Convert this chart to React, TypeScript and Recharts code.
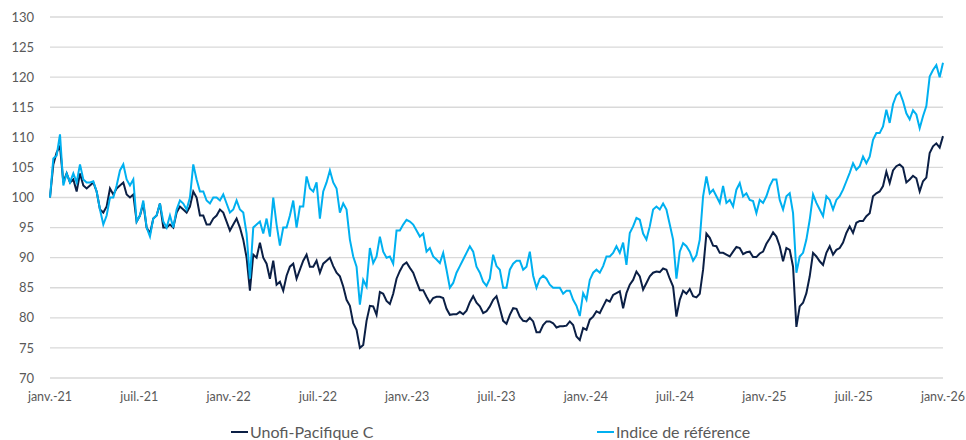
import React from 'react';
import { LineChart, Line, XAxis, YAxis, CartesianGrid, Legend } from 'recharts';

const FONT = 'Lato, "Open Sans", sans-serif';
const FUND_COLOR = '#0b1f45';
const BENCH_COLOR = '#00b0f0';

const tickLabels = [
  'janv.-21', 'juil.-21', 'janv.-22', 'juil.-22', 'janv.-23', 'juil.-23',
  'janv.-24', 'juil.-24', 'janv.-25', 'juil.-25', 'janv.-26',
];

const yTicks = [70, 75, 80, 85, 90, 95, 100, 105, 110, 115, 120, 125, 130];

// weekly values, Unofi-Pacifique C
const fund = [
  // 2021 - mid 2022
  100, 105.5, 107.5, 108.5, 102.5, 104, 102.5, 103, 101, 104, 102, 101.5, 102, 102.5, 101, 98, 97.5,
  98.5, 101.5, 100.5, 101.5, 102, 102.5, 100.5, 100, 100.5, 96, 97, 99, 95, 94, 96.5, 97, 99, 95, 95,
  95.5, 95, 97.5, 98.5, 98, 97.5, 98.5, 101, 100, 97, 97, 95.5, 95.5, 96.5, 97, 98, 97.5, 96, 94.5,
  95.5, 96.5, 95, 93, 90, 84.5, 90.5, 90, 92.5, 90, 89, 86.5, 89.5, 85.5, 86, 84.5, 87, 88.5, 89, 86.5,
  88, 89.5, 90.5, 88.5, 88.5, 89.5, 87.5, 89, 89.5, 90,
  // mid 2022 - mid 2024
  88.6, 87.5, 86.9, 85.2, 83, 82, 79.1, 78, 75, 75.5, 79.5, 82, 81.9, 80.5, 84.3, 84, 82.8, 82.3, 84,
  86.5, 87.8, 88.8, 89.2, 88.3, 87.5, 86, 84.6, 84.6, 83.5, 82.5, 83.3, 83.5, 83.5, 83.3, 81.5, 80.5,
  80.6, 80.6, 81, 80.6, 81.2, 82.6, 83.6, 82.5, 81.9, 80.8, 81.1, 81.9, 83, 83.6, 81.6, 79.5, 79, 80.5,
  81.6, 81.5, 80.2, 79.5, 79.4, 80, 79.4, 77.6, 77.6, 78.8, 79.4, 79.4, 79.1, 78.4, 78.6, 78.6, 78.7,
  79.4, 78.8, 76.9, 76.3, 78.3, 78, 79.7, 80.2, 81.1, 80.8, 81.9, 83, 82.7, 83.8, 84.1, 84.4, 81.6,
  84.1, 85.5, 86.3, 87.7, 86.9, 84.7, 85.8, 86.9,
  // mid 2024 - 2026
  87.5, 87.7, 87.6, 88.2, 88, 86.5, 85.2, 80.2, 83, 84.5, 84, 84.8, 83.6, 83.4, 84, 88, 94, 93.3, 92,
  91.9, 90.8, 90.8, 90.5, 90.2, 91, 91.8, 91.6, 90.6, 90.9, 91, 90.1, 90.1, 90.7, 91, 92.3, 93.2, 94.2,
  93.5, 91.9, 89.4, 91.6, 91.3, 88.5, 78.5, 81.9, 82.5, 84.1, 86.9, 90.8, 90.2, 89.4, 88.8, 90.8, 91.9,
  90.5, 91.3, 91.6, 92.5, 94.1, 95.2, 94.1, 95.8, 96.1, 96.1, 96.9, 97.4, 100.2, 100.7, 101, 101.9,
  104.3, 102.4, 104.5, 105.2, 105.5, 105, 102.5, 103, 103.6, 103.2, 101, 102.7, 103.3, 107.4, 108.5,
  109, 108.3, 110.2,
];

// weekly values, Indice de référence
const bench = [
  // 2021 - mid 2022
  100, 106.5, 107, 110.5, 102, 104, 102.5, 104, 102.5, 105.5, 103, 102.5, 102.5, 102.7, 101, 98, 95.5,
  97, 100, 100, 102, 104.5, 105.5, 103, 102, 103, 96, 97, 99.5, 95, 93.5, 96.5, 97, 99, 96, 95, 97, 95,
  98, 99.5, 99, 98, 100, 105.5, 103, 101, 101, 99.5, 99, 100, 100, 99.5, 100.5, 99, 97.5, 98, 99.5, 98,
  97.5, 94, 86.5, 95, 95.5, 96, 94, 96.5, 93.5, 100, 95.5, 92, 95, 95, 97, 99.5, 95, 98.5, 98.5, 103.5,
  101.5, 101, 102.5, 96.5, 101, 102.5, 104.5,
  // mid 2022 - mid 2024
  102.5, 101.5, 97.5, 99, 98, 93, 90.2, 88.5, 82.2, 86.3, 85.2, 91.6, 89.1, 90.2, 93.5, 91, 90, 90.2,
  89, 94.5, 94.5, 95.5, 96.3, 96, 95.5, 94.5, 93.5, 94, 91, 91.6, 90.2, 89.7, 89.1, 90.8, 88, 85, 85.8,
  87.5, 88.6, 89.7, 90.8, 91.9, 91, 88.5, 87.5, 86, 85.3, 86.5, 90.5, 88.6, 88, 85, 85, 88, 89, 89.5,
  89.5, 88, 88.5, 91, 87, 85, 86.5, 87, 86.5, 85.5, 85, 85, 85, 84, 84.5, 84.5, 83, 82, 80.3, 84.1, 83,
  86.3, 87.5, 88, 87.5, 88.6, 90.2, 90.2, 90.8, 91.9, 90.8, 92.5, 88.8, 94.1, 95.2, 96.6, 96.3, 94, 93,
  95.2,
  // mid 2024 - 2026
  98, 98.5, 98, 99, 98, 95.5, 93, 86.5, 91, 92.4, 91.9, 91, 89.5, 90.4, 93, 100.2, 103.5, 100.7, 101.3,
  100.2, 99.1, 101.9, 99.1, 99.6, 98.5, 101.3, 102.4, 100.2, 100.7, 99.6, 99.4, 97.4, 99.6, 99.1,
  100.2, 101.9, 103, 103, 99.6, 98, 100.2, 100.7, 97.4, 87.5, 90.2, 90.8, 93, 96.3, 100.5, 99.1, 98,
  96.9, 100.2, 99.6, 98, 99.6, 100.2, 101.3, 102.7, 104.1, 105.7, 104.6, 105.2, 106.8, 105.7, 106.8,
  109.6, 110.7, 110.7, 111.8, 114.6, 112.4, 115.5, 117, 117.5, 116, 114, 113, 114.5, 113.8, 111.5,
  113.5, 115.2, 120.1, 121.2, 122, 120, 122.4,
];

const data = fund.map((v, i) => ({ week: i, fund: v, bench: bench[i] }));
const lastWeek = fund.length - 1;
const xTicks = tickLabels.map((_, k) => (k * lastWeek) / (tickLabels.length - 1));

const LegendItem = ({ left, color, label }: { left: number; color: string; label: string }) => (
  <div style={{ position: 'absolute', left, top: 0, display: 'flex', alignItems: 'center' }}>
    <span style={{ display: 'inline-block', width: 17, height: 2.5, background: color, marginRight: 2 }} />
    <span>{label}</span>
  </div>
);

const renderLegend = () => (
  <div style={{ position: 'relative', height: 20, fontFamily: FONT, fontSize: 16, color: '#595959', lineHeight: '20px' }}>
    <LegendItem left={231} color={FUND_COLOR} label="Unofi-Pacifique C" />
    <LegendItem left={597} color={BENCH_COLOR} label="Indice de référence" />
  </div>
);

export default function App() {
  return (
    <div style={{ width: 966, height: 440 }}>
      {/* drop the default body margin so the chart fills the whole page */}
      <style>{'body { margin: 0; }'}</style>
      <LineChart width={966} height={440} data={data} margin={{ top: 17, right: 23, bottom: 11, left: 0 }}>
        <CartesianGrid vertical={false} stroke="#d9d9d9" strokeWidth={1.3} />
        <XAxis
          dataKey="week"
          type="number"
          domain={[0, lastWeek]}
          ticks={xTicks}
          tickFormatter={(v: number) => tickLabels[Math.round((v / lastWeek) * (tickLabels.length - 1))]}
          axisLine={false}
          tickLine={false}
          tickMargin={8}
          height={31}
          interval={0}
          tick={{ fill: '#595959', fontSize: 12.5, fontFamily: FONT }}
        />
        <YAxis
          domain={[70, 130]}
          ticks={yTicks}
          axisLine={false}
          tickLine={false}
          tickMargin={10}
          width={50}
          interval={0}
          tick={{ fill: '#595959', fontSize: 13, fontFamily: FONT }}
        />
        <Legend content={renderLegend} wrapperStyle={{ left: 0, top: 422, width: 966 }} />
        <Line type="linear" dataKey="fund" name="Unofi-Pacifique C" stroke={FUND_COLOR} strokeWidth={2} dot={false} isAnimationActive={false} />
        <Line type="linear" dataKey="bench" name="Indice de référence" stroke={BENCH_COLOR} strokeWidth={2} dot={false} isAnimationActive={false} />
      </LineChart>
    </div>
  );
}
